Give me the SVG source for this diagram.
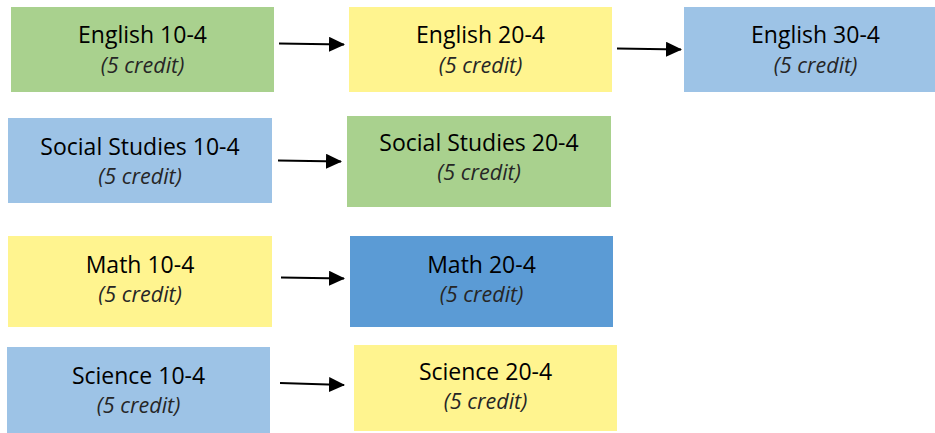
<svg xmlns="http://www.w3.org/2000/svg" width="935" height="433" viewBox="0 0 935 433">
<style>
.g{fill:#a9d18e}.y{fill:#fff48f}.b{fill:#9dc3e6}.d{fill:#5b9bd5}
.t{font-family:"Open Sans","Noto Sans",sans-serif;font-size:23px;fill:#000;text-anchor:middle}
.s{font-family:"Open Sans","Noto Sans",sans-serif;font-size:21.5px;font-style:italic;fill:#262626;text-anchor:middle}
.c{stroke:#000;stroke-width:2;fill:none;marker-end:url(#ah)}
</style>
<defs>
<marker id="ah" markerUnits="userSpaceOnUse" markerWidth="16" markerHeight="15" refX="15" refY="7.5" orient="auto">
<path d="M0,0 L16,7.5 L0,15 z" fill="#000"/>
</marker>
</defs>
<rect width="935" height="433" fill="#fff"/>
<g id="english10"><rect class="g" x="11" y="7" width="263" height="85"/><text class="t" x="142.5" y="43">English 10-4</text><text class="s" x="142.5" y="73">(5 credit)</text></g>
<g id="english20"><rect class="y" x="349" y="7" width="263" height="85"/><text class="t" x="480.5" y="43">English 20-4</text><text class="s" x="480.5" y="73">(5 credit)</text></g>
<g id="english30"><rect class="b" x="684" y="7" width="251" height="85"/><text class="t" x="815.5" y="43">English 30-4</text><text class="s" x="815.5" y="73">(5 credit)</text></g>
<g id="social10"><rect class="b" x="8" y="118" width="264" height="85"/><text class="t" x="140" y="155">Social Studies 10-4</text><text class="s" x="140" y="184">(5 credit)</text></g>
<g id="social20"><rect class="g" x="347" y="116" width="264" height="91"/><text class="t" x="479" y="151">Social Studies 20-4</text><text class="s" x="479" y="180">(5 credit)</text></g>
<g id="math10"><rect class="y" x="8" y="236" width="264" height="91"/><text class="t" x="140" y="273">Math 10-4</text><text class="s" x="140" y="302">(5 credit)</text></g>
<g id="math20"><rect class="d" x="350" y="236" width="263" height="91"/><text class="t" x="481.5" y="273">Math 20-4</text><text class="s" x="481.5" y="302">(5 credit)</text></g>
<g id="science10"><rect class="b" x="7" y="347" width="263" height="86"/><text class="t" x="138.5" y="384">Science 10-4</text><text class="s" x="138.5" y="413">(5 credit)</text></g>
<g id="science20"><rect class="y" x="354" y="345" width="263" height="86"/><text class="t" x="485.5" y="380">Science 20-4</text><text class="s" x="485.5" y="409">(5 credit)</text></g>
<g id="connectors">
<path class="c" d="M279,43.5 L344,44.5"/>
<path class="c" d="M617,48.5 L681,49.5"/>
<path class="c" d="M278,160.5 L341,161.5"/>
<path class="c" d="M281,277.5 L344,278.5"/>
<path class="c" d="M280,383 L344,385"/>
</g>
</svg>
